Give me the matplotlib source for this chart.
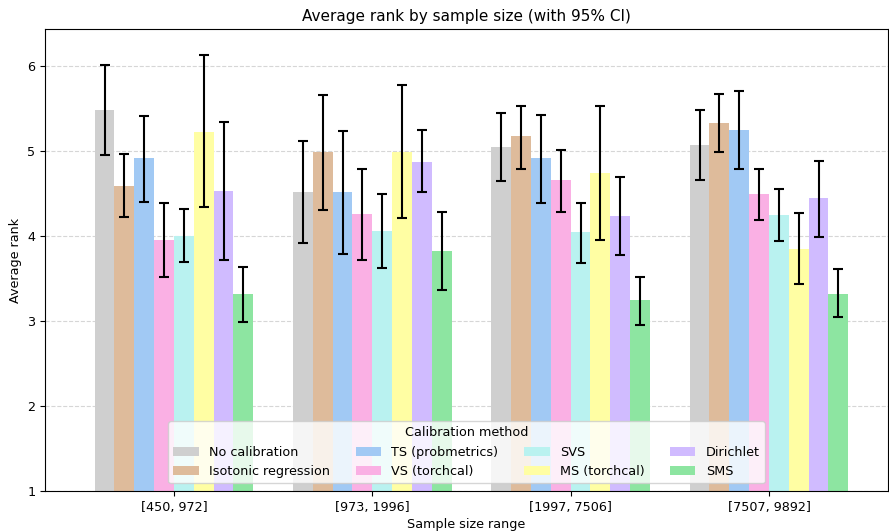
import numpy as np
import matplotlib
matplotlib.use("Agg")
import matplotlib.pyplot as plt

size_bins = ["[450, 972]", "[973, 1996]", "[1997, 7506]", "[7507, 9892]"]
methods = ["No calibration", "Isotonic regression", "TS (probmetrics)", "VS (torchcal)",
           "SVS", "MS (torchcal)", "Dirichlet", "SMS"]
colors = ["#cfcfcf", "#debb9b", "#a1c9f4", "#fab0e4",
          "#b9f2f0", "#fffea3", "#d0bbff", "#8de5a1"]

# mean rank per method, one list per sample size bin
mean_rank = [
    [5.48, 4.59, 4.91, 3.95, 4.00, 5.22, 4.53, 3.31],
    [4.52, 4.98, 4.51, 4.25, 4.05, 4.98, 4.87, 3.82],
    [5.04, 5.17, 4.91, 4.65, 4.04, 4.74, 4.23, 3.24],
    [5.07, 5.33, 5.24, 4.49, 4.24, 3.85, 4.44, 3.32],
]
ci_low = [
    [4.95, 4.22, 4.40, 3.51, 3.69, 4.34, 3.72, 2.99],
    [3.92, 4.30, 3.79, 3.71, 3.62, 4.21, 4.51, 3.36],
    [4.64, 4.79, 4.39, 4.28, 3.68, 3.95, 3.77, 2.95],
    [4.66, 4.99, 4.78, 4.19, 3.94, 3.43, 3.99, 3.04],
]
ci_high = [
    [6.01, 4.96, 5.41, 4.39, 4.32, 6.12, 5.34, 3.63],
    [5.11, 5.66, 5.23, 4.78, 4.49, 5.77, 5.24, 4.28],
    [5.44, 5.53, 5.42, 5.01, 4.39, 5.53, 4.69, 3.52],
    [5.48, 5.67, 5.70, 4.79, 4.55, 4.27, 4.88, 3.61],
]

mean_rank = np.array(mean_rank)
ci_low = np.array(ci_low)
ci_high = np.array(ci_high)

plt.rcParams["font.size"] = 9.2

fig = plt.figure(figsize=(8.89, 5.31), dpi=100)
ax = fig.add_axes([45 / 889, 40 / 531, 843 / 889, 462 / 531])

x = np.arange(len(size_bins))
width = 0.1
for j, m in enumerate(methods):
    pos = x + (j - 3.5) * width
    vals = mean_rank[:, j]
    err = [vals - ci_low[:, j], ci_high[:, j] - vals]
    ax.bar(pos, vals, width, color=colors[j], label=m, zorder=2)
    ax.errorbar(pos, vals, yerr=err, fmt="none", ecolor="black",
                elinewidth=1.5, capsize=3.8, capthick=1.5, zorder=3)

ax.set_xticks(x)
ax.set_xticklabels(size_bins)
ax.set_xlim(-0.65, 3.6)
ax.set_ylim(1, 6.43)
ax.set_yticks([1, 2, 3, 4, 5, 6])
ax.yaxis.grid(True, linestyle="--", color="#cccccc", alpha=0.8, zorder=0)
ax.set_axisbelow(True)
ax.set_xlabel("Sample size range", labelpad=3)
ax.set_ylabel("Average rank")
ax.set_title("Average rank by sample size (with 95% CI)", fontsize=11)
ax.legend(title="Calibration method", ncol=4, loc="lower center",
          borderaxespad=0.6)

fig.savefig("out.png", dpi=100)
